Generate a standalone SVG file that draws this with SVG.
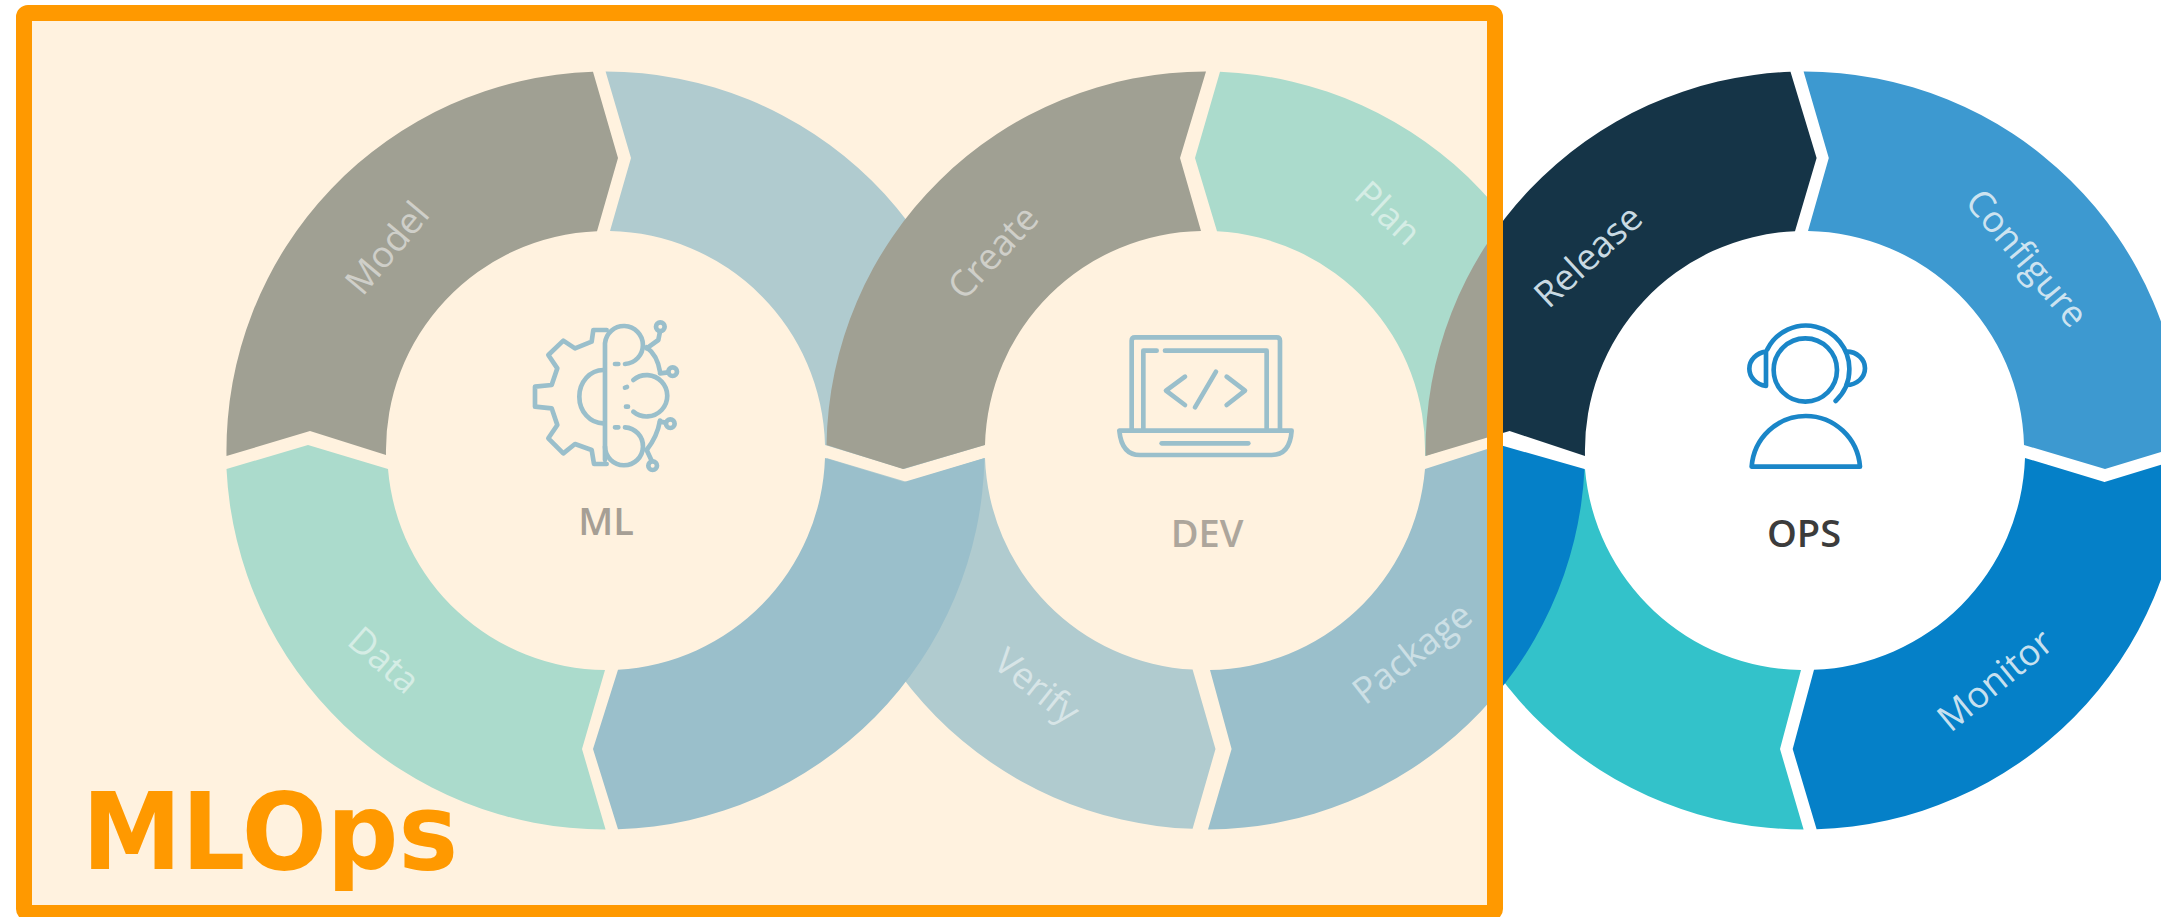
<svg xmlns="http://www.w3.org/2000/svg" width="2161" height="917" viewBox="0 0 2161 917">
<style>
.lbl{font-family:"Open Sans","Noto Sans","Liberation Sans",sans-serif;font-size:36.5px;text-anchor:middle}
.soft{fill:#fff;fill-opacity:.5}
.ops{fill:#dcebf4;fill-opacity:.92}
.ctr{font-family:"Open Sans","Noto Sans","Liberation Sans",sans-serif;font-size:38px;font-weight:600;text-anchor:middle}
.ic{fill:none;stroke:#9abfcb;stroke-width:14;stroke-linejoin:round;stroke-linecap:round}
.gray{fill:#a0a093}.mint{fill:#abdbcc}.pale{fill:#b0cbcf}.blue{fill:#9abfcb}
</style>
<defs>
<clipPath id="box"><rect x="24" y="13" width="1471" height="904"/></clipPath>
<clipPath id="out"><rect x="1495" y="0" width="666" height="917"/></clipPath>
<path id="relShape" d="M1425.6,456 A379 379 0 0 1 1790.5,71.8 L1816.6,158 L1795,231.2 A219.5 219.5 0 0 0 1585,456 L1509.6,431 Z"/>
<path id="pkgShape" d="M1425,469 L1500,445 L1584.5,469 A379 379 0 0 1 1208,829.5 L1231.6,749 L1210,670 A219.5 219.5 0 0 0 1425,469 Z"/>
</defs>
<rect width="2161" height="917" fill="#fff"/>
<g id="ops-ring">
<path id="ops-teal" fill="#33c2ca" d="M1425.6,472 L1580,472 L1585,469 A219.5 219.5 0 0 0 1801,670 L1780,749 L1803.6,829.5 A379 379 0 0 1 1425.6,472 Z"/>
<g clip-path="url(#out)"><use href="#pkgShape" fill="#0580c8"/><use href="#relShape" fill="#153447"/></g>
<path id="ops-configure" fill="#3d99d0" d="M1803.6,71.5 A379 379 0 0 1 2183.6,445 L2105,469 L2024,445 A219.5 219.5 0 0 0 1808,231 L1828.8,158 Z"/>
<path id="ops-monitor" fill="#0580c8" d="M2025,458 L2104.5,482 L2183.6,458 A379 379 0 0 1 1816.6,829.3 L1792.7,749 L1814,669.8 A219.5 219.5 0 0 0 2025,458 Z"/>
<text class="lbl ops" transform="translate(1588,256) rotate(-42.5)" dy=".35em">Release</text>
<text class="lbl ops" transform="translate(2027,258) rotate(50)" dy=".35em">Configure</text>
<text class="lbl ops" transform="translate(1995,680) rotate(-39.5)" dy=".35em">Monitor</text>
<g id="ops-icon" transform="translate(1710,300) scale(.3333)" fill="none" stroke="#1a86c8" stroke-width="14" stroke-linejoin="round" stroke-linecap="round">
<circle cx="286" cy="210" r="95"/>
<path d="M172,148 A130 130 0 0 1 418,205 A130 130 0 0 1 377,303"/>
<path d="M168,155 A58 52 0 0 0 168,258 Z"/>
<path d="M410,155 A55 50 0 0 1 410,255"/>
<path d="M125,500 H450 A163 165 0 0 0 125,500 Z"/>
</g>
<text class="ctr" x="1804" y="547" fill="#3c3c3c">OPS</text>
</g>
<rect x="24" y="13" width="1471" height="904" fill="#fff2df"/>
<g clip-path="url(#box)">
<g id="ml-ring">
<path id="ml-topright" class="pale" d="M605.6,71.5 A379 379 0 0 1 984.5,445 L904,469 L825,445 A219.5 219.5 0 0 0 610,231 L631,158 Z"/>
<path id="ml-model" class="gray" d="M226.5,456 A379 379 0 0 1 593,71.7 L618,158 L597,231.2 A219.5 219.5 0 0 0 386,455 L310,431 Z"/>
<path id="ml-data" class="mint" d="M226.5,469 L308,445 L388,469 A219.5 219.5 0 0 0 605,670 L582,749 L605.6,829.5 A379 379 0 0 1 226.5,469 Z"/>
</g>
<path id="dev-verify" class="pale" d="M985,458 L907,482 L826.5,458 A379 379 0 0 0 1192.6,828.8 L1215.5,749 L1192.6,669.6 A219.5 219.5 0 0 1 985,458 Z"/>
<path id="ml-bottomright" class="blue" d="M825,458 L904,482 L984.5,458 A379 379 0 0 1 618,829.3 L593,749 L618,669.7 A219.5 219.5 0 0 0 825,458 Z"/>
<g id="dev-ring">
<path id="dev-create" class="gray" d="M826.5,445 L903,469 L985,445 A219.5 219.5 0 0 1 1201,231 L1180,158 L1206,71.5 A379 379 0 0 0 826.5,445 Z"/>
<path id="dev-plan" class="mint" d="M1220,71.8 L1195,158 L1217,231.3 A219.5 219.5 0 0 1 1425,456 L1500,432 L1584.5,456 A379 379 0 0 0 1220,71.8 Z"/>
<use id="dev-package" href="#pkgShape" class="blue"/>
<use id="ops-release-tinted" href="#relShape" class="gray"/>
</g>
<text class="lbl soft" transform="translate(387,248) rotate(-50)" dy=".35em">Model</text>
<text class="lbl soft" transform="translate(384,660) rotate(41)" dy=".35em">Data</text>
<text class="lbl soft" transform="translate(993,252) rotate(-47)" dy=".35em">Create</text>
<text class="lbl soft" transform="translate(1388,213) rotate(43)" dy=".35em">Plan</text>
<text class="lbl soft" transform="translate(1412,653) rotate(-38)" dy=".35em">Package</text>
<text class="lbl soft" transform="translate(1037,686) rotate(38.6)" dy=".35em">Verify</text>
<g id="ml-icon" transform="translate(500,290) scale(.3333)" class="ic">
<path d="M320,120 H280 L275,155 L225,175 L190,152 L145,195 L172,235 L155,285 L105,290 V350 L155,355 L172,405 L145,445 L190,490 L225,462 L275,480 L282,522 H320"/>
<path d="M315,510 V160 A57 57 0 1 1 375,222"/>
<path d="M345,222 H355 M345,412 H355 M375,293 L381,291 M378,350 H384"/>
<path d="M310,240 A72 80 0 0 0 310,400"/>
<path d="M400,270 A62 62 0 1 1 400,365"/>
<path d="M440,172 Q472,195 480,245 M480,392 Q472,440 440,480"/>
<path d="M375,412 A57 57 0 1 1 315,470"/>
<path d="M440,175 L475,150 L480,125 M480,250 L505,247 M480,395 L497,398 M440,480 L455,512"/>
<circle cx="481" cy="110" r="13"/><circle cx="518" cy="245" r="13"/><circle cx="511" cy="401" r="13"/><circle cx="458" cy="527" r="13"/>
</g>
<text class="ctr" x="606" y="535" fill="#a69f95">ML</text>
<g id="dev-icon" transform="translate(1090,310) scale(.3333)" class="ic">
<path d="M125,360 V92 Q125,82 135,82 H560 Q570,82 570,92 V360"/>
<path d="M160,360 V122 H200 M225,122 H530 V360"/>
<path d="M88,362 H605 Q600,435 545,435 H150 Q95,435 88,362 Z"/>
<path d="M215,400 H475"/>
<path d="M285,200 L228,242 L285,285 M410,200 L465,242 L410,285 M378,185 L315,292"/>
</g>
<text class="ctr" x="1207" y="547" fill="#ada69c">DEV</text>
</g>
<rect id="frame" x="24" y="13" width="1471" height="900" rx="4" fill="none" stroke="#ff9900" stroke-width="16"/>
<text id="title" x="82" y="869" font-family="'DejaVu Sans',sans-serif" font-weight="700" font-size="107" fill="#ff9900" textLength="376" lengthAdjust="spacingAndGlyphs">MLOps</text>
</svg>
